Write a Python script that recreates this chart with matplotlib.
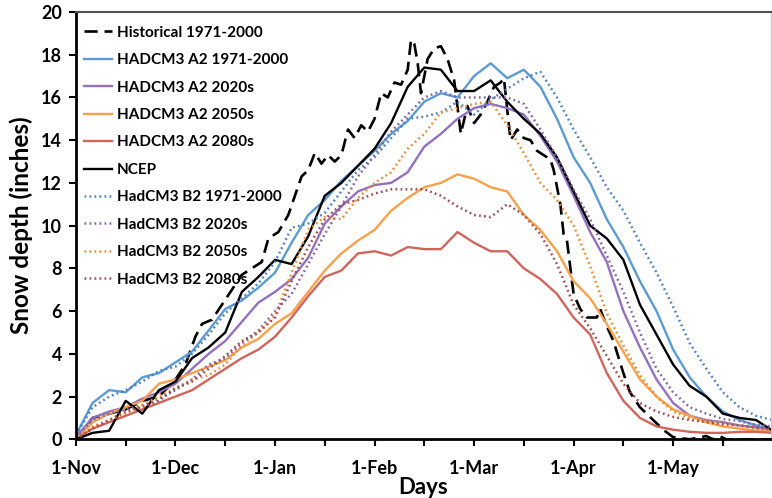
import matplotlib
matplotlib.use("Agg")
import matplotlib.pyplot as plt

plt.rcParams['font.family'] = ['Lato', 'DejaVu Sans']
plt.rcParams['font.weight'] = 'bold'

# day index 0 = 1-Nov, readings every 5 days
days = list(range(0, 211, 5))

a2_1971 = [0.2, 1.7, 2.3, 2.2, 2.9, 3.1, 3.6, 4.1, 5.1, 6.1, 6.5, 7.1, 7.8, 9.2, 10.5,
           11.2, 12.1, 12.8, 13.5, 14.3, 14.9, 15.8, 16.2, 16.0, 17.0, 17.6, 16.9, 17.3,
           16.5, 15.0, 13.2, 12.0, 10.3, 9.0, 7.4, 6.0, 4.2, 2.9, 2.0, 1.3, 0.9, 0.65, 0.45]
a2_2020 = [0.1, 1.0, 1.3, 1.5, 1.9, 2.2, 2.6, 3.3, 4.0, 4.6, 5.5, 6.4, 6.9, 7.5, 8.5,
           10.1, 10.9, 11.6, 11.9, 12.0, 12.5, 13.7, 14.3, 15.0, 15.5, 15.7, 15.5, 15.2,
           14.2, 13.0, 11.4, 9.7, 8.3, 6.0, 4.3, 2.8, 1.7, 1.1, 0.9, 0.8, 0.65, 0.55, 0.45]
a2_2050 = [0.0, 0.8, 1.2, 1.5, 1.8, 2.6, 2.8, 3.1, 3.4, 3.7, 4.3, 4.7, 5.4, 5.9, 6.9,
           7.9, 8.7, 9.3, 9.8, 10.7, 11.3, 11.8, 12.0, 12.4, 12.2, 11.8, 11.6, 10.5,
           9.8, 8.8, 7.4, 6.6, 5.4, 4.1, 2.8, 2.0, 1.4, 1.1, 0.8, 0.6, 0.5, 0.4, 0.35]
a2_2080 = [0.0, 0.5, 0.8, 1.1, 1.4, 1.7, 2.0, 2.3, 2.8, 3.3, 3.8, 4.2, 4.8, 5.7, 6.7,
           7.6, 7.9, 8.7, 8.8, 8.6, 9.0, 8.9, 8.9, 9.7, 9.2, 8.8, 8.8, 8.0,
           7.5, 6.8, 5.7, 4.9, 3.1, 1.8, 1.0, 0.6, 0.45, 0.35, 0.3, 0.3, 0.35, 0.35, 0.3]
ncep = [0.0, 0.3, 0.4, 1.8, 1.2, 2.3, 2.7, 3.8, 4.3, 5.0, 6.9, 7.6, 8.4, 8.2, 9.5,
        11.4, 12.0, 12.8, 13.6, 14.8, 16.5, 17.4, 17.3, 16.3, 16.3, 16.8, 15.8, 15.0,
        14.3, 13.2, 11.6, 10.0, 9.4, 8.4, 6.3, 4.9, 3.5, 2.5, 2.0, 1.2, 1.0, 0.9, 0.4]
b2_1971 = [0.2, 1.5, 2.0, 2.3, 2.7, 3.2, 3.4, 4.0, 4.9, 5.9, 6.6, 7.3, 8.3, 9.9, 10.1,
           10.6, 11.6, 12.6, 13.2, 14.1, 15.0, 15.1, 15.3, 15.8, 15.2, 15.9, 16.4, 16.9,
           17.2, 16.0, 14.5, 13.2, 11.8, 10.7, 9.2, 7.8, 6.2, 4.5, 3.3, 2.2, 1.5, 1.1, 0.9]
b2_2020 = [0.1, 0.9, 1.2, 1.4, 1.6, 1.9, 2.3, 2.8, 3.5, 3.8, 4.5, 5.1, 6.0, 6.8, 8.2,
           9.6, 10.9, 12.3, 13.3, 14.4, 15.2, 16.0, 16.3, 16.0, 16.0, 16.0, 16.0, 15.7,
           14.5, 13.2, 11.7, 10.3, 8.6, 6.9, 5.0, 3.3, 2.2, 1.5, 1.2, 0.95, 0.85, 0.67, 0.6]
b2_2050 = [0.0, 0.6, 0.9, 1.2, 1.6, 2.0, 2.4, 2.8, 3.0, 3.5, 4.4, 5.0, 5.8, 7.8, 9.8,
           10.4, 10.3, 11.3, 12.0, 12.5, 13.6, 14.3, 15.3, 15.5, 15.7, 15.8, 14.7, 13.4,
           12.0, 11.2, 10.0, 8.1, 5.9, 4.4, 3.0, 2.0, 1.3, 1.0, 0.9, 0.75, 0.65, 0.5, 0.45]
b2_2080 = [0.0, 0.5, 0.9, 1.3, 1.5, 1.8, 2.4, 2.7, 3.3, 3.9, 4.6, 5.0, 5.7, 7.4, 9.0,
           10.3, 11.0, 11.2, 11.5, 11.7, 11.7, 11.7, 11.4, 10.9, 10.5, 10.4, 11.0, 10.5,
           9.6, 8.2, 6.3, 5.2, 3.9, 2.6, 1.7, 1.3, 1.05, 0.9, 0.8, 0.7, 0.65, 0.55, 0.45]

# the observed record is spikier, so it has its own day list
hist_days = [0, 5, 10, 15, 20, 25, 30, 33, 36, 38, 41, 44, 47, 50, 53, 56, 58, 61, 64, 66,
             68, 70, 72, 74, 76, 78, 80, 82, 84, 86, 88, 90, 92, 94, 96, 98, 100, 101, 102,
             103, 104, 106, 108, 110, 112, 114, 116, 118, 120, 122, 124, 126, 128, 129, 130,
             131, 133, 135, 137, 139, 141, 143, 144, 146, 147, 148, 150, 152, 154, 157, 158,
             160, 162, 165, 167, 170, 172, 174, 177, 180, 185, 190, 192, 194, 196, 200, 205, 210]
hist = [0.0, 1.0, 1.2, 1.4, 1.8, 2.0, 2.8, 3.5, 4.8, 5.4, 5.6, 6.3, 7.0, 7.7, 8.0, 8.3, 9.4,
        9.7, 10.5, 11.4, 12.3, 12.6, 13.4, 12.9, 13.3, 13.0, 13.3, 14.5, 14.1, 14.7, 14.4,
        15.0, 16.2, 16.0, 16.7, 16.6, 17.3, 18.7, 18.5, 17.6, 16.2, 17.8, 18.3, 18.4, 17.8,
        16.8, 14.3, 15.6, 14.8, 15.2, 15.8, 16.5, 16.7, 16.9, 15.4, 14.0, 14.5, 14.1, 14.0,
        13.5, 13.3, 13.1, 12.6, 11.0, 9.6, 9.3, 6.8, 6.1, 5.7, 5.7, 6.1, 5.3, 4.6, 3.1, 2.2,
        1.5, 1.2, 0.9, 0.45, 0.1, 0.0, 0.15, 0.0, 0.15, 0.0, 0.0, 0.0, 0.0]

tick_days = [0, 30, 60, 90, 120, 150, 180]
tick_labels = ['1-Nov', '1-Dec', '1-Jan', '1-Feb', '1-Mar', '1-Apr', '1-May']

fig = plt.figure(figsize=(7.72, 4.98), dpi=100)
ax = fig.add_axes([0.0984, 0.1179, 0.9003, 0.858])

dot = (0, (0.7, 1.3))
ax.plot(hist_days, hist, color='black', lw=1.9, ls=(0, (5, 2.6)), label='Historical 1971-2000')
ax.plot(days, a2_1971, color='#5b9bd5', lw=1.7, label='HADCM3 A2 1971-2000')
ax.plot(days, a2_2020, color='#9370c0', lw=1.7, label='HADCM3 A2 2020s')
ax.plot(days, a2_2050, color='#f9a04a', lw=1.7, label='HADCM3 A2 2050s')
ax.plot(days, a2_2080, color='#d2645c', lw=1.7, label='HADCM3 A2 2080s')
ax.plot(days, ncep, color='black', lw=1.7, label='NCEP')
ax.plot(days, b2_1971, color='#4a7fc0', lw=1.8, ls=dot, label='HadCM3 B2 1971-2000')
ax.plot(days, b2_2020, color='#8062a8', lw=1.8, ls=dot, label='HadCM3 B2 2020s')
ax.plot(days, b2_2050, color='#f08a30', lw=1.8, ls=dot, label='HadCM3 B2 2050s')
ax.plot(days, b2_2080, color='#a34a48', lw=1.8, ls=dot, label='HadCM3 B2 2080s')

ax.set_xlim(0, 209.5)
ax.set_ylim(0, 20)
ax.set_yticks(range(0, 21, 2))
ax.set_xticks(tick_days)
ax.set_xticklabels(tick_labels)
ax.set_xticks([15, 45, 75, 105, 135, 165, 195], minor=True)
ax.tick_params(axis='x', which='both', direction='out', length=5, width=1.5, pad=10,
               labelsize=13)
ax.tick_params(axis='y', direction='out', length=5, width=1.5, pad=5, labelsize=13)

for side in ['left', 'bottom']:
    ax.spines[side].set_linewidth(2)
    ax.spines[side].set_color('black')
ax.spines['top'].set_color('#505050')
ax.spines['top'].set_linewidth(1.5)
ax.spines['right'].set_color('#c8c8c8')
ax.spines['right'].set_linewidth(1)

ax.set_ylabel('Snow depth (inches)', fontsize=17.5, fontweight='bold', labelpad=6)
ax.set_xlabel('Days', fontsize=16, fontweight='bold', labelpad=0)

ax.legend(loc='upper left', bbox_to_anchor=(0.0115, 0.968), frameon=False,
          borderpad=0, borderaxespad=0, handlelength=1.85, handletextpad=0.3,
          labelspacing=0.88, prop={'weight': 'bold', 'size': 11})

fig.savefig('out.png', dpi=100)
